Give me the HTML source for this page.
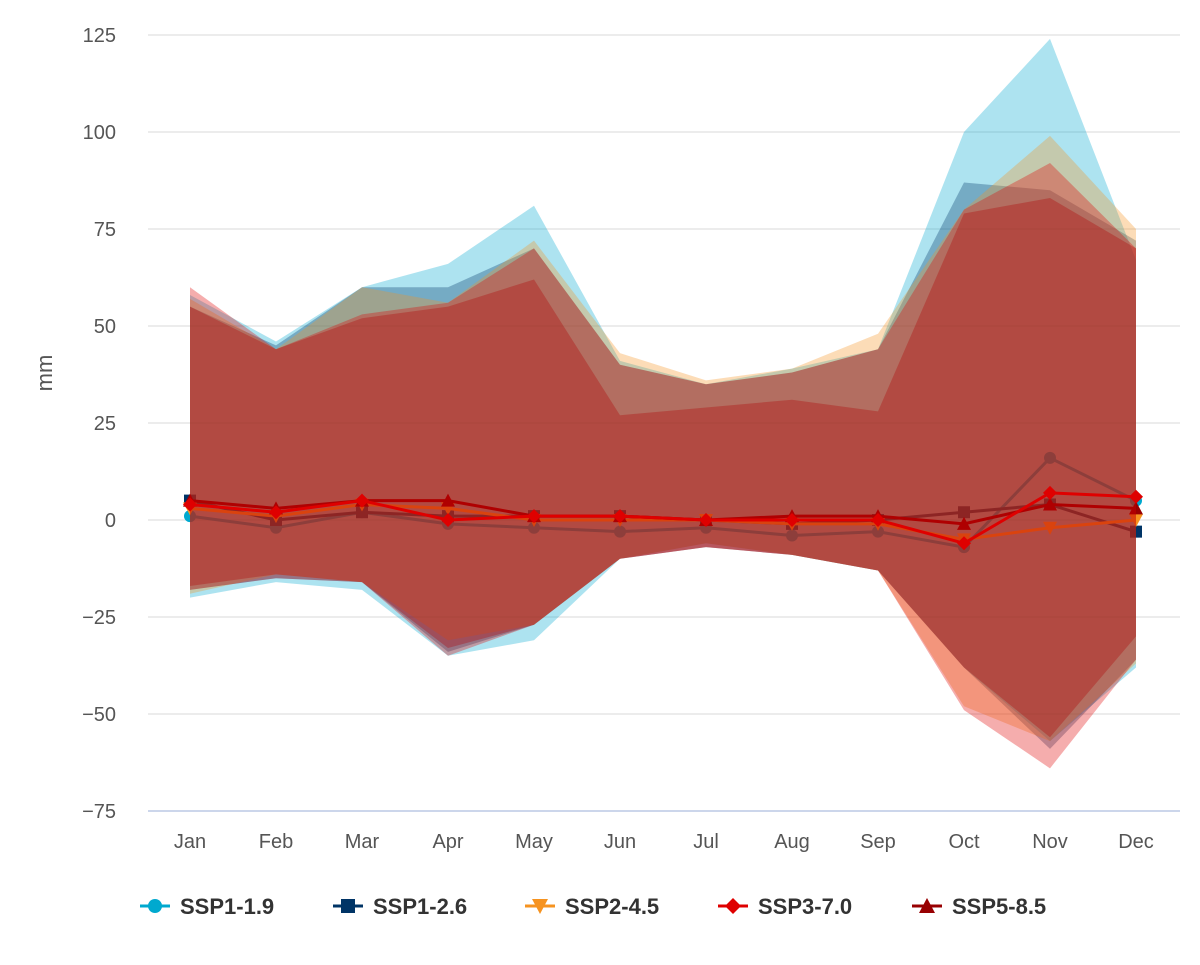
<!DOCTYPE html>
<html><head><meta charset="utf-8">
<style>
body{margin:0;background:#fff;width:1200px;height:960px;overflow:hidden;font-family:"Liberation Sans",sans-serif;}
svg text{font-family:"Liberation Sans",sans-serif;}
</style></head>
<body>
<svg id="chart" width="1200" height="960" xmlns="http://www.w3.org/2000/svg"></svg>
<script>
const months=["Jan","Feb","Mar","Apr","May","Jun","Jul","Aug","Sep","Oct","Nov","Dec"];
const yTicks=[125,100,75,50,25,0,-25,-50,-75];
const seriesNames=["SSP1-1.9","SSP1-2.6","SSP2-4.5","SSP3-7.0","SSP5-8.5"];
const colors=["#00a9cf","#003466","#f69320","#df0000","#980002"];
const markers=["circle","square","triangle-down","diamond","triangle"];
const high19=[58,46,60,66,81,41,35,39,44,100,124,67];
const low19=[-20,-16,-18,-35,-31,-10,-6,-9,-13,-38,-57,-38];
const high26=[55,45,60,60,70,40,35,38,44,87,85,72];
const low26=[-18,-15,-16,-34,-27,-10,-7,-9,-13,-38,-59,-36];
const high45=[57,44,60,56,72,43,36,39,48,80,99,75];
const low45=[-19,-14,-16,-31,-27,-10,-6,-9,-13,-48,-57,-37];
const high70=[60,44,53,56,70,40,35,38,44,80,92,70];
const low70=[-18,-15,-16,-35,-27,-10,-7,-9,-13,-49,-64,-36];
const high85=[55,44,52,55,62,27,29,31,28,79,83,70];
const low85=[-17,-14,-16,-33,-27,-10,-7,-9,-13,-38,-56,-30];
const mean19=[1,-2,2,-1,-2,-3,-2,-4,-3,-7,16,5];
const mean26=[5,0,2,1,1,1,0,-1,0,2,4,-3];
const mean45=[3,1,4,3,0,0,0,-1,-1,-5,-2,0];
const mean70=[4,2,5,0,1,1,0,0,0,-6,7,6];
const mean85=[5,3,5,5,1,1,0,1,1,-1,4,3];
const highs=[high19,high26,high45,high70,high85];
const lows=[low19,low26,low45,low70,low85];
const means=[mean19,mean26,mean45,mean70,mean85];

const NS="http://www.w3.org/2000/svg";
const svg=document.getElementById('chart');
const x0=190,dx=86,yMax=125,yMin=-75,plotTop=35,plotBot=811;
const X=i=>x0+i*dx;
const Y=v=>plotTop+(yMax-v)/(yMax-yMin)*(plotBot-plotTop);
function el(t,a,p){const e=document.createElementNS(NS,t);for(const k in a)e.setAttribute(k,a[k]);(p||svg).appendChild(e);return e;}

yTicks.forEach(t=>{
  const g=el('line',{x1:148,x2:1180,y1:Y(t),y2:Y(t),stroke:t===yMin?'#ccd6eb':'#e6e6e6','stroke-width':t===yMin?2:1.5});
  
  
  const l=el('text',{x:116,y:Y(t)+7,'text-anchor':'end','font-size':20,fill:'#555'});
  l.textContent=String(t).replace('-','\u2212');
  
  
});
const yt=el('text',{x:0,y:0,'font-size':22,fill:'#555','text-anchor':'middle',transform:'translate(52,373) rotate(-90)'});
yt.textContent='mm';


months.forEach((m,i)=>{
  const t=el('text',{x:X(i),y:848,'text-anchor':'middle','font-size':20,fill:'#555'});
  t.textContent=m;
  
  
});

function marker(type,cx,cy,c,s,parent){
  let e;
  if(type==='circle')e=el('circle',{cx,cy,r:s,fill:c},parent);
  else if(type==='square')e=el('rect',{x:cx-s,y:cy-s,width:2*s,height:2*s,fill:c},parent);
  else if(type==='diamond')e=el('polygon',{points:`${cx},${cy-s-1} ${cx+s+1},${cy} ${cx},${cy+s+1} ${cx-s-1},${cy}`,fill:c},parent);
  else if(type==='triangle')e=el('polygon',{points:`${cx},${cy-s-1} ${cx+s+1},${cy+s} ${cx-s-1},${cy+s}`,fill:c},parent);
  else e=el('polygon',{points:`${cx},${cy+s+1} ${cx+s+1},${cy-s} ${cx-s-1},${cy-s}`,fill:c},parent);
  return e;
}

[0,1,2,4,3].forEach(s=>{
  const n=seriesNames[s];
  const hi=highs[s],lo=lows[s],mn=means[s];
  const pts=hi.map((v,i)=>X(i)+','+Y(v)).concat(lo.map((v,i)=>X(i)+','+Y(v)).reverse());
  const a=el('polygon',{points:pts.join(' '),fill:colors[s],'fill-opacity':0.32});
  
  
  const l=el('polyline',{points:mn.map((v,i)=>X(i)+','+Y(v)).join(' '),fill:'none',stroke:colors[s],'stroke-width':3});
  
  
  mn.forEach((v,i)=>{
    const m=marker(markers[s],X(i),Y(v),colors[s],6);
    
    
  });
});

const lx=[140,333,525,718,912];
seriesNames.forEach((n,s)=>{
  const g=el('g',{});
  
  
  el('line',{x1:lx[s],x2:lx[s]+30,y1:906,y2:906,stroke:colors[s],'stroke-width':3},g);
  marker(markers[s],lx[s]+15,906,colors[s],7,g);
  const t=el('text',{x:lx[s]+40,y:914,'font-size':22,'font-weight':'bold',fill:'#333'},g);
  t.textContent=n;
});
</script>
</body></html>
